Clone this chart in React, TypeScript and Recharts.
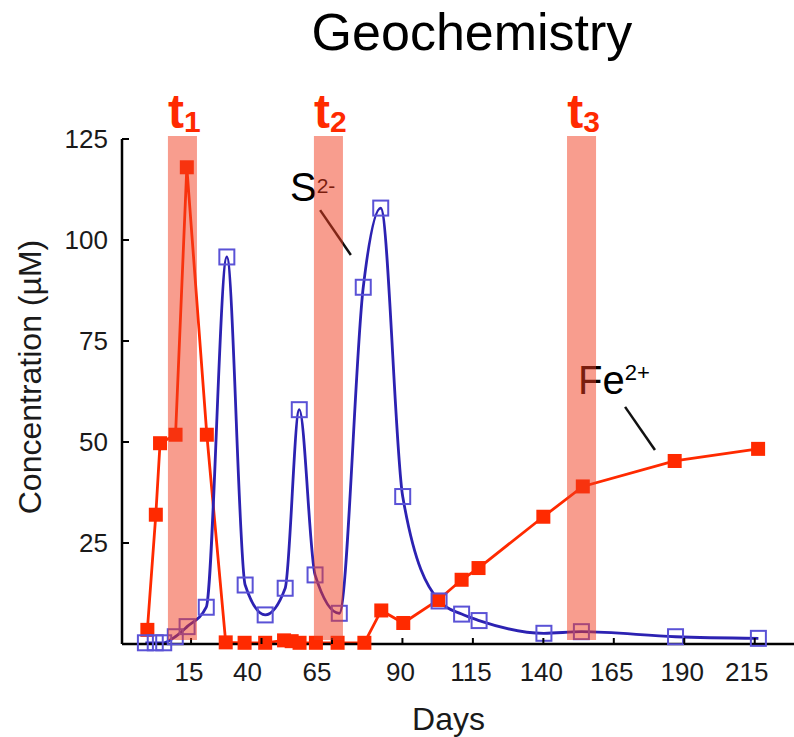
import React from 'react';
import { LineChart, Line, XAxis, YAxis, ReferenceArea, ReferenceLine, ReferenceDot } from 'recharts';

// ---- data ----
const FE_DAYS = [-0.5, 2.5, 4, 9.5, 13.5, 20.6, 27.3, 34, 41.3, 48, 50.7, 53.5, 59.3, 67, 76.5, 82.5, 90.3, 102.7, 111, 117, 140, 154, 186.6, 216.2];
const FE_VALUES = [3.5, 32, 49.7, 51.8, 118, 51.8, 0.4, 0.3, 0.3, 0.9, 0.7, 0.3, 0.3, 0.3, 0.3, 8.3, 5.2, 10.9, 15.9, 18.8, 31.5, 39, 45.3, 48.3];
const S_DAYS = [-1.2, 2.3, 5.3, 9.4, 13.6, 20.4, 27.7, 34.2, 41.3, 48.4, 53.4, 59, 67.6, 76.1, 82.3, 90.1, 103, 111, 117.2, 140.2, 153.5, 186.9, 216.3];
const S_VALUES = [0.3, 0.3, 0.3, 1.8, 4.3, 9.1, 95.8, 14.6, 7.2, 13.8, 58, 17.1, 7.6, 88.3, 107.9, 36.5, 10.65, 7.4, 5.8, 2.65, 3.05, 1.8, 1.4];
const X_TICKS = [15, 40, 65, 90, 115, 140, 165, 190, 215];
const Y_TICKS = [25, 50, 75, 100, 125];
const BAND_START = [6.8, 58.6, 148.4];
const BAND_END = [17.1, 68.9, 158.7];
const BAND_NAMES = ['1', '2', '3'];
const X_DOMAIN: [number, number] = [-9.5, 230];
const Y_DOMAIN: [number, number] = [0, 125];

const FE_DATA = FE_DAYS.map((d, i) => ({ day: d, v: FE_VALUES[i] }));
const S_DATA = S_DAYS.map((d, i) => ({ day: d, v: S_VALUES[i] }));

const FONT = '"Liberation Sans", Arial, Helvetica, sans-serif';
const RED = '#ff2a00';
const BLUE = '#2c22b2';
const BLUE_MARK = '#5a52d6';
const BAND = '#f23c1e';

const X_LABEL_SHIFT: Record<number, number> = { 40: -14, 65: -15, 215: -8 };

function XTick(props: any) {
  const { x, y, payload } = props;
  const shift = X_LABEL_SHIFT[payload.value] ?? -2;
  return (
    <g>
      <line x1={x} x2={x} y1={y} y2={y - 6} stroke="#000" strokeWidth={2} />
      <text x={x + shift} y={y + 19} dy="0.71em" textAnchor="middle" fontSize={26} fill="#1a1a1a" fontFamily={FONT}>
        {payload.value}
      </text>
    </g>
  );
}

function YTickLeft(props: any) {
  const { x, y, payload } = props;
  return (
    <g>
      <line x1={x} x2={x + 7} y1={y} y2={y} stroke="#000" strokeWidth={2} />
      <text x={x - 14} y={y} dy="0.355em" textAnchor="end" fontSize={26} fill="#1a1a1a" fontFamily={FONT}>
        {payload.value}
      </text>
    </g>
  );
}

function YTickRight(props: any) {
  const { x, y } = props;
  return <line x1={x} x2={x - 7} y1={y} y2={y} stroke="#000" strokeWidth={2} />;
}

const feDot = (p: any) => (
  <rect key={`fe-${p.index}`} x={p.cx - 7} y={p.cy - 7} width={14} height={14} fill={RED} />
);
const sDot = (p: any) => (
  <rect key={`s-${p.index}`} x={p.cx - 7.5} y={p.cy - 7.5} width={15} height={15} fill="none" stroke={BLUE_MARK} strokeWidth={2} />
);

const tLabel = (name: string) => (p: any) => (
  <text x={p.cx + 2} y={p.cy} textAnchor="middle" fill={RED} fontWeight="bold" fontFamily={FONT}>
    <tspan fontSize={48}>t</tspan>
    <tspan fontSize={30} dy={4}>{name}</tspan>
  </text>
);

const sLabel = (p: any) => (
  <text x={p.cx} y={p.cy} fill="#000" fontFamily={FONT}>
    <tspan fontSize={40}>S</tspan>
    <tspan fontSize={21} dy={-8}>2-</tspan>
  </text>
);

const feLabel = (p: any) => (
  <text x={p.cx} y={p.cy} fill="#000" fontFamily={FONT}>
    <tspan fontSize={40}>Fe</tspan>
    <tspan fontSize={22} dy={-14}>2+</tspan>
  </text>
);

export default function App() {
  return (
    <div style={{ position: 'fixed', left: 0, top: 0, width: 794, height: 737, overflow: 'hidden', background: '#fff' }}>
      <div style={{ position: 'absolute', left: 0, top: 0 }}>
        <LineChart width={800} height={737} margin={{ top: 139, right: 0, bottom: 0, left: 0 }}>
          <XAxis
            dataKey="day"
            type="number"
            domain={X_DOMAIN}
            ticks={X_TICKS}
            height={93}
            tickSize={0}
            tickMargin={0}
            tickLine={false}
            tick={<XTick />}
            axisLine={{ stroke: '#000', strokeWidth: 2.5 }}
            interval={0}
          />
          <XAxis
            xAxisId="top"
            orientation="top"
            type="number"
            domain={X_DOMAIN}
            height={0}
            tick={false}
            tickLine={false}
            axisLine={{ stroke: '#000', strokeWidth: 2.5 }}
          />
          <YAxis
            type="number"
            domain={Y_DOMAIN}
            ticks={Y_TICKS}
            width={122}
            tickSize={0}
            tickMargin={0}
            tickLine={false}
            tick={<YTickLeft />}
            axisLine={{ stroke: '#000', strokeWidth: 2.5 }}
            interval={0}
          />
          <YAxis
            yAxisId="right"
            orientation="right"
            type="number"
            domain={Y_DOMAIN}
            ticks={Y_TICKS}
            width={3}
            tickSize={0}
            tickMargin={0}
            tickLine={false}
            tick={<YTickRight />}
            axisLine={{ stroke: '#000', strokeWidth: 2.5 }}
            interval={0}
          />

          <ReferenceDot x={50.1} y={109.7} r={1} ifOverflow="visible" shape={sLabel} />
          <ReferenceDot x={152.3} y={61.9} r={1} ifOverflow="visible" shape={feLabel} />
          <ReferenceLine
            segment={[{ x: 60.8, y: 107.4 }, { x: 71.7, y: 96.3 }]}
            stroke="#111"
            strokeWidth={2.5}
            ifOverflow="visible"
          />
          <ReferenceLine
            segment={[{ x: 169, y: 58.7 }, { x: 179.6, y: 48 }]}
            stroke="#111"
            strokeWidth={2.5}
            ifOverflow="visible"
          />

          <Line
            data={FE_DATA}
            dataKey="v"
            type="linear"
            stroke={RED}
            strokeWidth={2.8}
            dot={feDot}
            activeDot={false}
            isAnimationActive={false}
          />
          <Line
            data={S_DATA}
            dataKey="v"
            type="monotone"
            stroke={BLUE}
            strokeWidth={2.8}
            dot={sDot}
            activeDot={false}
            isAnimationActive={false}
          />

          {BAND_START.map((s, i) => (
            <ReferenceArea
              key={`band-${i}`}
              x1={s}
              x2={BAND_END[i]}
              y1={1}
              y2={125.75}
              fill={BAND}
              fillOpacity={0.5}
              stroke="none"
              ifOverflow="visible"
              zIndex={2500}
            />
          ))}
          {BAND_START.map((s, i) => (
            <ReferenceDot
              key={`tlab-${i}`}
              x={(s + BAND_END[i]) / 2}
              y={127.7}
              r={1}
              ifOverflow="visible"
              shape={tLabel(BAND_NAMES[i])}
            />
          ))}
        </LineChart>
      </div>
      <svg width={794} height={737} style={{ position: 'absolute', left: 0, top: 0, pointerEvents: 'none' }}>
        <text x={472} y={50} textAnchor="middle" fontSize={52} fill="#000" fontFamily={FONT}>
          Geochemistry
        </text>
        <text x={448.5} y={730} textAnchor="middle" fontSize={32} fill="#1a1a1a" fontFamily={FONT}>
          Days
        </text>
        <text
          x={41}
          y={377}
          textAnchor="middle"
          fontSize={32}
          fill="#1a1a1a"
          fontFamily={FONT}
          transform="rotate(-90, 41, 377)"
        >
          Concentration (µM)
        </text>
      </svg>
    </div>
  );
}
